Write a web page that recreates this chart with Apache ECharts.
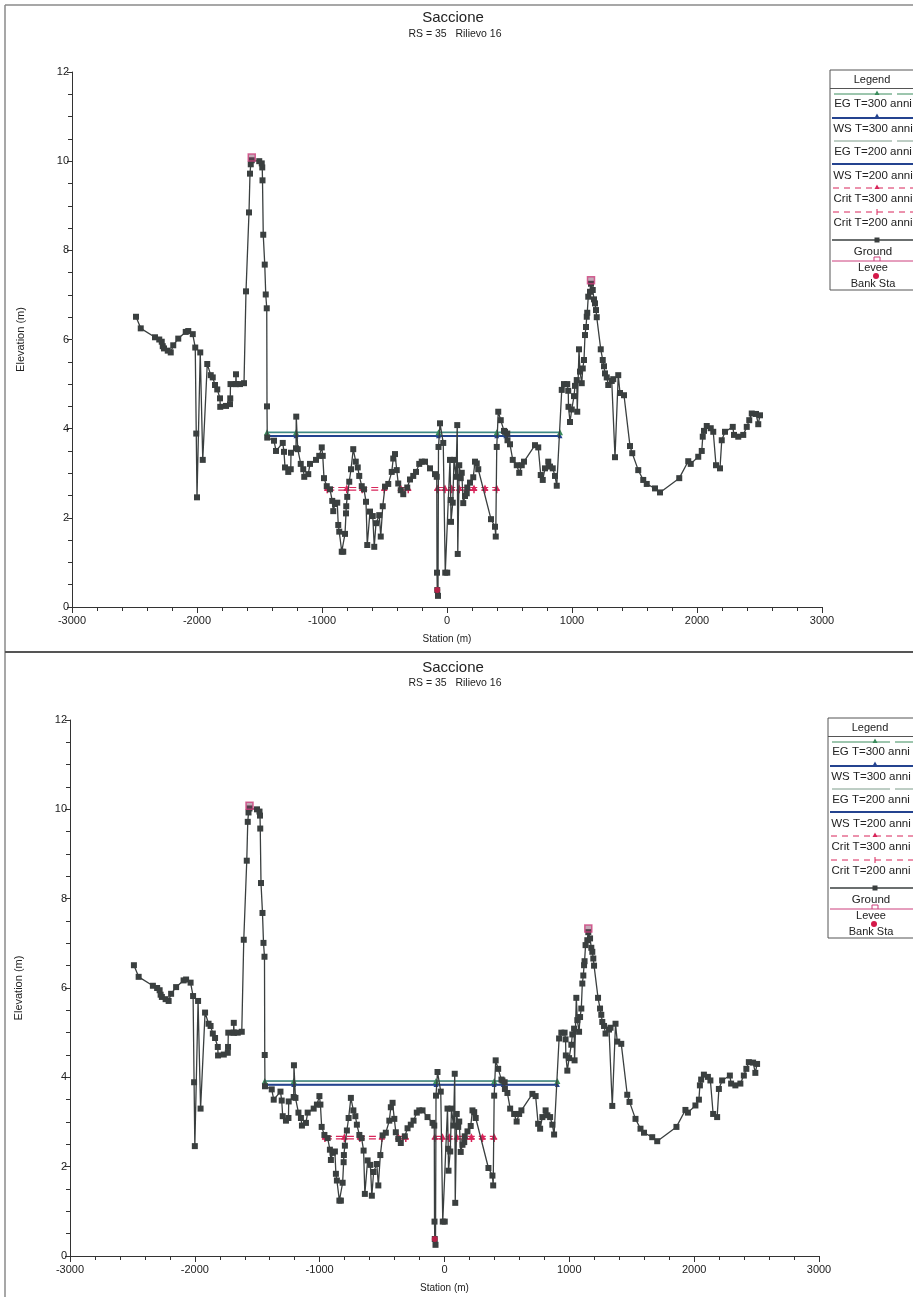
<!DOCTYPE html>
<html>
<head>
<meta charset="utf-8">
<title>Saccione RS = 35 Rilievo 16</title>
<script src="https://cdn.jsdelivr.net/npm/echarts@6/dist/echarts.min.js"></script>
<style>
  html, body { margin: 0; padding: 0; background: #fff; overflow: hidden; }
  #chart { width: 913px; height: 1297px; }
</style>
</head>
<body>
<div id="chart"></div>
<script>
// ---- Cross-section data (station in m, elevation in m) ----
const groundStation = [
  -2488,-2450,-2336,-2302,-2282,-2274,-2264,-2234,-2210,-2190,-2150,-2090,-2070,-2034,-2014,-2006,-2000,-1974,-1954,-1918,
  -1890,-1874,-1856,-1838,-1816,-1814,-1768,-1736,-1734,-1732,-1690,-1688,-1686,-1656,-1624,-1608,-1584,-1576,-1570,-1562,
  -1502,-1482,-1478,-1476,-1470,-1458,-1450,-1442,-1440,-1438,-1384,-1368,-1314,-1304,-1296,-1270,-1250,-1248,-1208,-1206,
  -1194,-1170,-1150,-1142,-1110,-1096,-1048,-1022,-1002,-994,-984,-962,-936,-918,-910,-896,-878,-870,-862,-842,
  -830,-816,-808,-806,-798,-782,-768,-750,-730,-714,-702,-682,-664,-648,-638,-616,-594,-582,-568,-542,
  -530,-514,-496,-470,-442,-430,-416,-402,-390,-370,-350,-318,-296,-270,-248,-222,-202,-176,-136,-96,
  -82,-80,-78,-72,-68,-56,-30,-14,2,24,30,32,46,56,72,82,86,98,110,118,
  130,144,158,162,184,210,224,238,250,352,384,390,398,410,430,456,464,482,484,504,
  526,558,578,598,616,704,730,750,766,784,810,824,846,864,878,918,936,962,970,972,
  984,998,1016,1024,1038,1042,1056,1064,1078,1086,1096,1104,1112,1118,1122,1130,1144,1152,1166,1176,
  1184,1192,1198,1230,1246,1256,1264,1278,1290,1318,1330,1344,1370,1384,1416,1464,1482,1530,1570,1598,
  1664,1704,1858,1930,1950,2010,2038,2046,2056,2078,2110,2130,2152,2184,2198,2224,2286,2296,2330,2370,
  2398,2418,2438,2472,2490,2504
];
const groundElev = [
  6.51,6.25,6.05,6.00,5.95,5.85,5.80,5.75,5.71,5.87,6.02,6.17,6.19,6.12,5.82,3.89,2.46,5.71,3.30,5.45,
  5.20,5.15,4.98,4.88,4.68,4.49,4.51,4.55,4.68,5.00,5.00,5.22,5.00,5.00,5.02,7.08,8.85,9.72,9.93,10.02,
  10.00,9.95,9.86,9.57,8.35,7.68,7.01,6.70,4.50,3.80,3.73,3.50,3.68,3.48,3.13,3.03,3.09,3.46,3.56,4.27,
  3.54,3.21,3.09,2.92,2.98,3.21,3.30,3.39,3.58,3.39,2.89,2.71,2.64,2.38,2.15,2.31,2.34,1.84,1.69,1.24,
  1.24,1.64,2.10,2.26,2.47,2.81,3.09,3.54,3.26,3.13,2.94,2.71,2.64,2.36,1.39,2.14,2.04,1.35,1.88,2.06,
  1.58,2.26,2.70,2.76,3.03,3.33,3.43,3.07,2.77,2.62,2.53,2.68,2.86,2.94,3.03,3.21,3.26,3.26,3.11,2.98,
  2.92,0.77,0.38,0.25,3.59,4.12,3.68,0.77,0.77,3.30,2.40,1.91,2.34,3.30,2.92,4.08,1.19,3.18,2.89,3.01,
  2.33,2.49,2.55,2.68,2.79,2.91,3.26,3.22,3.09,1.97,1.80,1.58,3.59,4.38,4.19,3.95,3.93,3.89,3.74,3.65,
  3.30,3.18,3.01,3.18,3.26,3.63,3.58,2.96,2.85,3.11,3.26,3.15,3.11,2.94,2.72,4.87,5.00,5.00,4.85,4.49,
  4.15,4.43,4.73,4.96,5.09,4.38,5.78,5.28,5.02,5.35,5.54,6.10,6.28,6.51,6.60,6.96,7.07,7.25,7.11,6.90,
  6.81,6.66,6.50,5.78,5.54,5.40,5.24,5.15,4.98,5.07,5.11,3.36,5.20,4.80,4.75,3.61,3.45,3.07,2.85,2.76,
  2.66,2.57,2.89,3.27,3.21,3.37,3.50,3.82,3.95,4.06,4.01,3.93,3.18,3.11,3.74,3.93,4.04,3.86,3.82,3.86,
  4.04,4.19,4.34,4.33,4.10,4.30
];

// Water surface / energy grade lines
const wsStation = [-1440, -1208, -68, 398, 470, 904];
const eg300Elev = [3.92, 3.92, 3.92, 3.92, 3.92, 3.92];
const ws300Elev = [3.84, 3.84, 3.84, 3.84, 3.84, 3.84];
const eg200Elev = [3.91, 3.91, 3.91, 3.91, 3.91, 3.91];
const ws200Elev = [3.83, 3.83, 3.83, 3.83, 3.83, 3.83];

// Critical depth lines (null separates wetted reaches)
const critStation = [-958, -802, -678, -502, null, -370, -310, null, -78, -16, 38, 98, 170, 216, 304, 398];
const crit300Elev = [2.68, 2.68, 2.68, 2.68, null, 2.68, 2.68, null, 2.68, 2.68, 2.68, 2.68, 2.68, 2.68, 2.68, 2.68];
const crit200Elev = [2.62, 2.62, 2.62, 2.62, null, 2.62, 2.62, null, 2.62, 2.62, 2.62, 2.62, 2.62, 2.62, 2.62, 2.62];

// Levees and bank stations
const leveeStation = [-1562, 1152];
const leveeElev = [10.08, 7.33];
const bankStation = [-78];
const bankElev = [0.38];

// Axis ticks
const xTicks = { min: -3000, max: 3000, step: 1000 };
const yTicks = { min: 0, max: 12, step: 2 };

const titleText = 'Saccione';
const subtitleText = 'RS = 35   Rilievo 16';
const legendItems = ['EG T=300 anni', 'WS T=300 anni', 'EG T=200 anni', 'WS T=200 anni',
                     'Crit T=300 anni', 'Crit T=200 anni', 'Ground', 'Levee', 'Bank Sta'];

// ---- Styling ----
const FONT = '"Liberation Sans", Arial, Helvetica, sans-serif';
const C = {
  ground: '#3a3f3f',
  eg300: '#3f8a86',
  eg200: '#7d9c8a',
  ws: '#24438f',
  crit: '#d8255a',
  levee: '#cc3f7c',
  bank: '#d41a4a',
  axis: '#333',
  text: '#222'
};

function pairs(xs, ys) {
  const out = [];
  let last = xs[0];
  for (let i = 0; i < xs.length; i++) {
    if (xs[i] === null || ys[i] === null) { out.push([last, '-']); continue; }
    last = xs[i];
    out.push([xs[i], ys[i]]);
  }
  return out;
}

// Two identical panels, stacked
const panels = [
  { grid: { left: 72, top: 72, width: 750, height: 535 }, titleY: 18, subY: 34, legend: [830, 70] },
  { grid: { left: 70, top: 720, width: 749, height: 536 }, titleY: 668, subY: 683, legend: [828, 718] }
];

const plainNumber = function (v) { return String(v); };

function xAxisFor(i) {
  return {
    type: 'value', gridIndex: i, min: xTicks.min, max: xTicks.max, interval: xTicks.step,
    name: 'Station (m)', nameLocation: 'middle', nameGap: 27,
    nameTextStyle: { fontSize: 10, color: C.text, fontFamily: FONT },
    axisLine: { show: true, onZero: false, lineStyle: { color: C.axis, width: 1 } },
    axisTick: { show: true, inside: false, length: 6, lineStyle: { color: C.axis } },
    minorTick: { show: true, splitNumber: 5, length: 4, lineStyle: { color: C.axis } },
    splitLine: { show: false }, minorSplitLine: { show: false },
    axisLabel: { fontSize: 11, color: C.text, margin: 8, fontFamily: FONT, formatter: plainNumber }
  };
}
function yAxisFor(i) {
  return {
    type: 'value', gridIndex: i, min: yTicks.min, max: yTicks.max, interval: yTicks.step,
    name: 'Elevation (m)', nameLocation: 'middle', nameGap: 46, nameRotate: 90,
    nameTextStyle: { fontSize: 11, color: C.text, fontFamily: FONT },
    axisLine: { show: true, onZero: false, lineStyle: { color: C.axis, width: 1 } },
    axisTick: { show: true, inside: false, length: 5, lineStyle: { color: C.axis } },
    minorTick: { show: true, splitNumber: 4, length: 4, lineStyle: { color: C.axis } },
    splitLine: { show: false }, minorSplitLine: { show: false },
    axisLabel: { fontSize: 11, color: C.text, margin: 3, fontFamily: FONT, formatter: plainNumber }
  };
}

const plusPath = 'path://M3,0h2v3h3v2h-3v3h-2v-3h-3v-2h3z';

function seriesFor(i) {
  const base = { xAxisIndex: i, yAxisIndex: i, animation: false, connectNulls: false, silent: true };
  return [
    Object.assign({}, base, {
      type: 'line', name: legendItems[3], data: pairs(wsStation, ws200Elev),
      symbol: 'none', lineStyle: { color: C.ws, width: 1.5 }, z: 2
    }),
    Object.assign({}, base, {
      type: 'line', name: legendItems[1], data: pairs(wsStation, ws300Elev),
      symbol: 'triangle', symbolSize: 5, itemStyle: { color: C.ws },
      lineStyle: { color: C.ws, width: 1.5 }, z: 2
    }),
    Object.assign({}, base, {
      type: 'line', name: legendItems[2], data: pairs(wsStation, eg200Elev),
      symbol: 'none', lineStyle: { color: C.eg200, width: 1.2 }, z: 3
    }),
    Object.assign({}, base, {
      type: 'line', name: legendItems[0], data: pairs(wsStation, eg300Elev),
      symbol: 'triangle', symbolSize: 6, itemStyle: { color: '#3a8c5c' },
      lineStyle: { color: C.eg300, width: 1.4 }, z: 3
    }),
    Object.assign({}, base, {
      type: 'line', name: legendItems[5], data: pairs(critStation, crit200Elev),
      symbol: plusPath, symbolSize: 6, itemStyle: { color: C.crit },
      lineStyle: { color: C.crit, width: 1.2, type: [7, 4] }, z: 4
    }),
    Object.assign({}, base, {
      type: 'line', name: legendItems[4], data: pairs(critStation, crit300Elev),
      symbol: 'triangle', symbolSize: 6, itemStyle: { color: C.crit },
      lineStyle: { color: C.crit, width: 1.2, type: [7, 4] }, z: 4
    }),
    Object.assign({}, base, {
      type: 'line', name: legendItems[6], data: pairs(groundStation, groundElev),
      symbol: 'rect', symbolSize: 6, itemStyle: { color: C.ground },
      lineStyle: { color: C.ground, width: 1.3 }, z: 5
    }),
    Object.assign({}, base, {
      type: 'scatter', name: legendItems[7], data: pairs(leveeStation, leveeElev),
      symbol: 'rect', symbolSize: 7,
      itemStyle: { color: 'rgba(120,60,90,0.55)', borderColor: C.levee, borderWidth: 1.5 }, z: 6
    }),
    Object.assign({}, base, {
      type: 'scatter', name: legendItems[8], data: pairs(bankStation, bankElev),
      symbol: 'circle', symbolSize: 6, itemStyle: { color: C.bank }, z: 7
    })
  ];
}

function txt(x, y, text, size, extra) {
  return Object.assign({
    type: 'text', x: x, y: y, silent: true,
    style: { text: text, font: size + 'px ' + FONT, fill: C.text, textAlign: 'center', textVerticalAlign: 'middle' }
  }, extra || {});
}
function seg(x1, y1, x2, y2, color, width, dash) {
  return { type: 'line', silent: true, shape: { x1: x1, y1: y1, x2: x2, y2: y2 },
           style: { stroke: color, lineWidth: width, lineDash: dash || null } };
}
function tri(cx, cy, s, color) {
  return { type: 'polygon', silent: true,
           shape: { points: [[cx, cy - s], [cx + s, cy + s * 0.8], [cx - s, cy + s * 0.8]] },
           style: { fill: color } };
}

function legendAt(x0, y0) {
  const w = 100, mx = x0 + 47, tx = x0 + 43;
  const els = [];
  els.push({ type: 'rect', silent: true, shape: { x: x0, y: y0, width: w, height: 220 },
             style: { fill: '#fff', stroke: '#555', lineWidth: 1 } });
  els.push(txt(tx - 1, y0 + 10, 'Legend', 11));
  els.push(seg(x0, y0 + 18.5, x0 + w, y0 + 18.5, '#555', 1));
  // EG T=300
  els.push(seg(x0 + 4, y0 + 24, x0 + 62, y0 + 24, '#3a8c5c', 1));
  els.push(seg(x0 + 67, y0 + 24, x0 + w, y0 + 24, '#3a8c5c', 1));
  els.push(tri(mx, y0 + 23, 2.5, '#3a8c5c'));
  els.push(txt(tx, y0 + 34, legendItems[0], 11.5));
  // WS T=300
  els.push(seg(x0 + 2, y0 + 48, x0 + w, y0 + 48, C.ws, 2));
  els.push(tri(mx, y0 + 46, 2.5, C.ws));
  els.push(txt(tx, y0 + 59, legendItems[1], 11.5));
  // EG T=200
  els.push(seg(x0 + 4, y0 + 71, x0 + 62, y0 + 71, C.eg200, 1));
  els.push(seg(x0 + 67, y0 + 71, x0 + w, y0 + 71, C.eg200, 1));
  els.push(txt(tx, y0 + 82, legendItems[2], 11.5));
  // WS T=200
  els.push(seg(x0 + 2, y0 + 94, x0 + w, y0 + 94, C.ws, 2));
  els.push(txt(tx, y0 + 106, legendItems[3], 11.5));
  // Crit T=300
  els.push(seg(x0 + 3, y0 + 118, x0 + w, y0 + 118, C.crit, 1, [6, 5]));
  els.push(tri(mx, y0 + 117, 2.5, C.crit));
  els.push(txt(tx, y0 + 129, legendItems[4], 11.5));
  // Crit T=200
  els.push(seg(x0 + 3, y0 + 142, x0 + w, y0 + 142, C.crit, 1, [6, 5]));
  els.push(seg(mx, y0 + 139, mx, y0 + 145, C.crit, 1));
  els.push(txt(tx, y0 + 153, legendItems[5], 11.5));
  // Ground
  els.push(seg(x0 + 2, y0 + 170, x0 + w, y0 + 170, C.ground, 1.5));
  els.push({ type: 'rect', silent: true, shape: { x: mx - 2.5, y: y0 + 167.5, width: 5, height: 5 }, style: { fill: C.ground } });
  els.push(txt(tx, y0 + 182, legendItems[6], 11.5));
  // Levee
  els.push(seg(x0 + 2, y0 + 191, x0 + w, y0 + 191, C.levee, 1));
  els.push({ type: 'polyline', silent: true,
             shape: { points: [[mx - 3, y0 + 191], [mx - 3, y0 + 187], [mx + 3, y0 + 187], [mx + 3, y0 + 191]] },
             style: { stroke: C.levee, lineWidth: 1, fill: null } });
  els.push(txt(tx, y0 + 198, legendItems[7], 11));
  // Bank Sta
  els.push({ type: 'circle', silent: true, shape: { cx: mx - 1, cy: y0 + 206, r: 3 }, style: { fill: C.bank } });
  els.push(txt(tx, y0 + 214, legendItems[8], 11));
  return els;
}

const graphics = [];
// page frame and panel separator
graphics.push(seg(5, 5, 913, 5, '#8a8a8a', 1.5));
graphics.push(seg(5, 5, 5, 1297, '#8a8a8a', 1.5));
graphics.push(seg(5, 652, 913, 652, '#555', 2));
panels.forEach(function (p) {
  graphics.push(txt(453, p.titleY, titleText, 15));
  graphics.push(txt(455, p.subY, subtitleText, 10.5));
  legendAt(p.legend[0], p.legend[1]).forEach(function (e) { graphics.push(e); });
});

const option = {
  backgroundColor: '#fff',
  animation: false,
  grid: panels.map(function (p) { return p.grid; }),
  xAxis: panels.map(function (p, i) { return xAxisFor(i); }),
  yAxis: panels.map(function (p, i) { return yAxisFor(i); }),
  series: [].concat(seriesFor(0), seriesFor(1)),
  graphic: { elements: graphics }
};

const chart = echarts.init(document.getElementById('chart'), null, { renderer: 'canvas' });
chart.setOption(option);
</script>
</body>
</html>
